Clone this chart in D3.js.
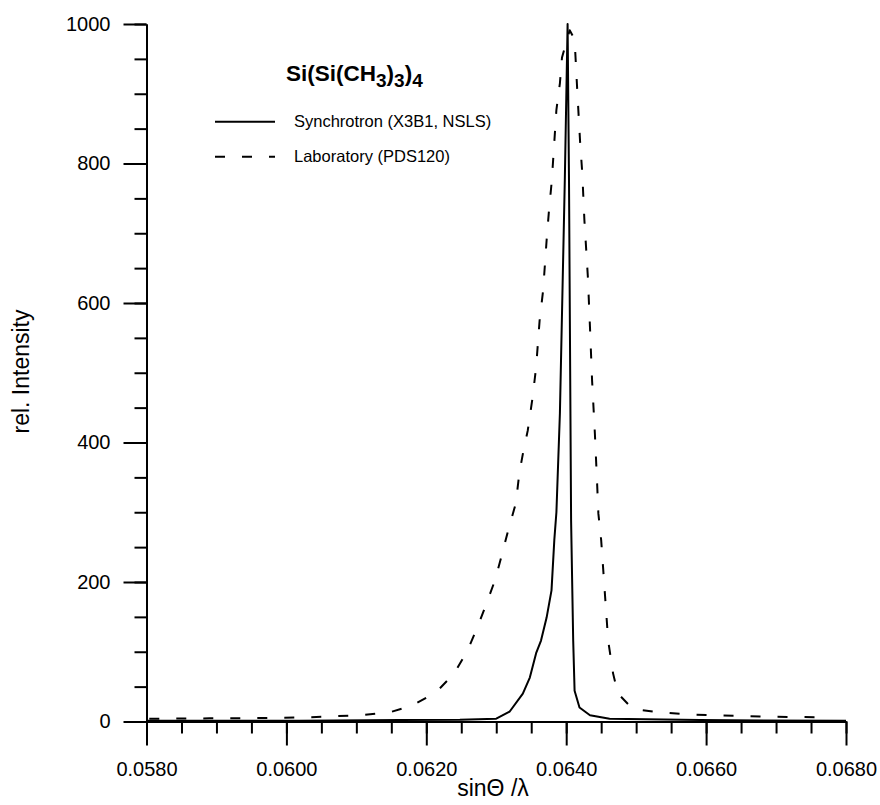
<!DOCTYPE html>
<html>
<head>
<meta charset="utf-8">
<script src="https://cdn.jsdelivr.net/npm/d3@7"></script>
<style>
  body { margin: 0; background: #fff; }
  text { font-family: "Liberation Sans", Arial, sans-serif; fill: #000; }
</style>
</head>
<body>
<div id="chart"></div>
<script>
// valeurs
var synchX = [0.0580, 0.05875, 0.06019, 0.06162, 0.06248, 0.06300, 0.06319, 0.06338, 0.06348, 0.06357,
              0.06364, 0.06372, 0.06379, 0.06383, 0.06386, 0.06391, 0.06395, 0.06398, 0.06402, 0.06404,
              0.06407, 0.06410, 0.06412, 0.06419, 0.06434, 0.06462, 0.06591, 0.0680];
var synchY = [1, 1, 1, 2, 2.5, 4, 14, 40, 63, 98,
              116, 149, 188, 260, 300, 442, 633, 776, 1000, 776,
              288, 116, 44, 20, 9, 4, 2, 1];

var labX = [0.05804, 0.0589, 0.05961, 0.06033, 0.06104, 0.06147, 0.0618, 0.06214, 0.0624, 0.06259,
            0.06273, 0.06286, 0.06298, 0.06307, 0.06316, 0.06328, 0.06333, 0.06339, 0.06345, 0.06352,
            0.06357, 0.06362, 0.06367, 0.06372, 0.06375, 0.06379, 0.06381, 0.06386, 0.06391, 0.06394,
            0.06405, 0.06412, 0.06416, 0.06420, 0.06423, 0.06426, 0.06431, 0.06434, 0.06437, 0.06441,
            0.06444, 0.06446, 0.0645, 0.06455, 0.0646, 0.06467, 0.06474, 0.06495, 0.06534, 0.06581,
            0.06677, 0.06767];
var labY = [4, 4.5, 5, 6, 9, 13, 23, 42, 69, 102,
            135, 169, 202, 235, 270, 313, 356, 389, 417, 465,
            508, 575, 618, 690, 728, 771, 800, 877, 915, 952,
            991, 978, 901, 829, 786, 719, 637, 565, 489, 413,
            346, 298, 260, 188, 116, 69, 40, 18, 13, 10,
            7, 6];

var xMajor = [0.058, 0.060, 0.062, 0.064, 0.066, 0.068];
var yMajor = [0, 200, 400, 600, 800, 1000];

var series = [
  {name: "Synchrotron (X3B1, NSLS)", xs: synchX, ys: synchY, dash: null},
  {name: "Laboratory (PDS120)", xs: labX, ys: labY, dash: "10,17"}
];

var W = 880, H = 805;
var svg = d3.select("#chart").append("svg")
    .attr("width", W)
    .attr("height", H);

var x = d3.scaleLinear().domain([0.058, 0.068]).range([146.5, 846]);
var y = d3.scaleLinear().domain([0, 1000]).range([721.5, 24]);

// petites graduations
var xMinor = d3.range(0.058, 0.06801, 0.0005);
var yMinor = d3.range(0, 1001, 50);

svg.append("g")
    .attr("class", "axis")
    .attr("transform", "translate(0," + y(0) + ")")
    .call(d3.axisBottom(x).tickValues(xMinor).tickSize(12).tickSizeOuter(0).tickFormat(""));
svg.append("g")
    .attr("class", "axis")
    .attr("transform", "translate(0," + y(0) + ")")
    .call(d3.axisBottom(x).tickValues(xMajor).tickSize(24).tickSizeOuter(0).tickPadding(16)
        .tickFormat(d3.format(".4f")));

svg.append("g")
    .attr("class", "axis")
    .attr("transform", "translate(" + x(0.058) + ",0)")
    .call(d3.axisLeft(y).tickValues(yMinor).tickSize(12).tickSizeOuter(0).tickFormat(""));
svg.append("g")
    .attr("class", "axis")
    .attr("transform", "translate(" + x(0.058) + ",0)")
    .call(d3.axisLeft(y).tickValues(yMajor).tickSize(23).tickSizeOuter(0).tickPadding(13)
        .tickFormat(d3.format("d")));

svg.selectAll(".axis path, .axis line")
    .attr("stroke", "#000")
    .attr("stroke-width", 2);
svg.selectAll(".axis text")
    .attr("fill", "#000")
    .style("font-family", "'Liberation Sans', Arial, sans-serif")
    .style("font-size", "20px");

// courbes
var line = d3.line()
    .x(function (d) { return x(d[0]); })
    .y(function (d) { return y(d[1]); });

series.forEach(function (s) {
    var pts = s.xs.map(function (v, i) { return [v, s.ys[i]]; });
    svg.append("path")
        .datum(pts)
        .attr("d", line)
        .attr("fill", "none")
        .attr("stroke", "#000")
        .attr("stroke-width", 2)
        .attr("stroke-linejoin", "round")
        .attr("stroke-dasharray", s.dash);
});

// titre Si(Si(CH3)3)4
var title = svg.append("text")
    .attr("x", 286)
    .attr("y", 81)
    .style("font-size", "22.5px")
    .style("font-weight", "bold");
title.append("tspan").text("Si(Si(CH");
title.append("tspan").attr("dy", 6).style("font-size", "19px").text("3");
title.append("tspan").attr("dy", -6).text(")");
title.append("tspan").attr("dy", 6).style("font-size", "19px").text("3");
title.append("tspan").attr("dy", -6).text(")");
title.append("tspan").attr("dy", 6).style("font-size", "19px").text("4");

// légende
var legend = svg.append("g");
series.forEach(function (s, i) {
    var ly = 121.7 + i * 35;
    legend.append("line")
        .attr("x1", 215).attr("x2", 275)
        .attr("y1", ly).attr("y2", ly)
        .attr("stroke", "#000")
        .attr("stroke-width", 2)
        .attr("stroke-dasharray", s.dash);
    legend.append("text")
        .attr("x", 294)
        .attr("y", ly + 5.5)
        .style("font-size", "16.5px")
        .text(s.name);
});

// titres des axes
svg.append("text")
    .attr("x", 493)
    .attr("y", 796)
    .attr("text-anchor", "middle")
    .style("font-size", "23px")
    .text("sin\u0398 /\u03bb");

svg.append("text")
    .attr("transform", "translate(29,371.5) rotate(-90)")
    .attr("text-anchor", "middle")
    .style("font-size", "23px")
    .text("rel. Intensity");
</script>
</body>
</html>
